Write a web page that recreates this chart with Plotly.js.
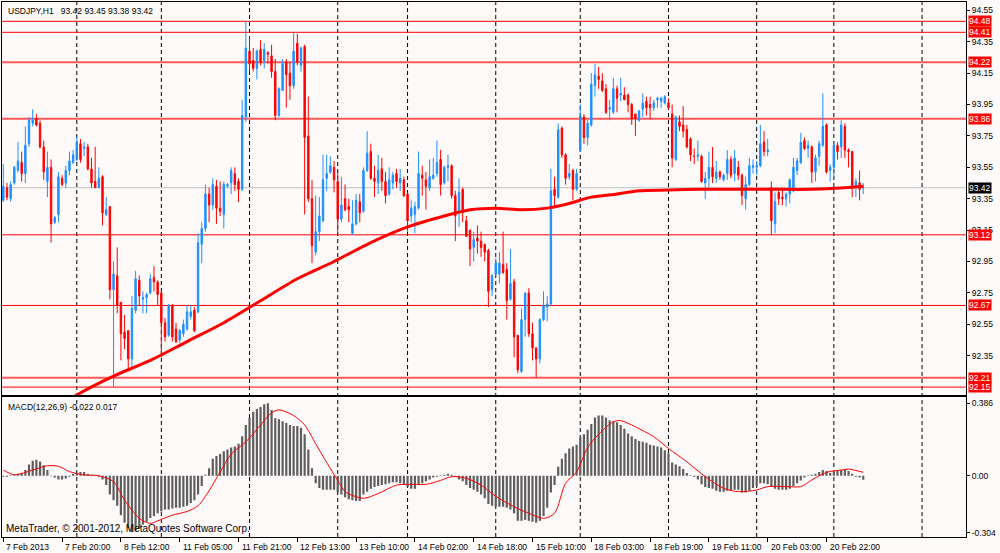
<!DOCTYPE html>
<html><head><meta charset="utf-8">
<script src="https://cdn.plot.ly/plotly-3.0.1.min.js"></script>
<style>html,body{margin:0;padding:0;background:#FFFAFA;}#chart{width:1000px;height:553px;}</style>
</head><body><div id="chart"></div>
<script>
// ---- OHLC (USDJPY H1), bar index 0 = 7 Feb 2013 04:00 ----
const open = [
93.34,93.42,93.35,93.45,93.53,93.58,93.51,93.70,93.83,93.86,
93.83,93.68,93.46,93.55,93.20,93.25,93.48,93.45,93.53,93.58,
93.60,93.70,93.67,93.68,93.54,93.46,93.42,93.49,93.25,93.30,
92.77,92.86,92.69,92.50,92.51,92.33,92.64,92.83,92.71,92.72,
92.75,92.85,92.82,92.75,92.56,92.48,92.67,92.52,92.45,92.49,
92.52,92.60,92.64,92.63,93.06,93.16,93.38,93.31,93.43,93.29,
93.25,93.43,93.45,93.51,93.46,93.41,93.87,94.29,94.23,94.18,
94.30,94.23,94.28,94.26,94.16,93.88,94.04,94.22,94.15,94.07,
94.34,94.20,94.32,93.75,93.35,93.01,93.14,93.21,93.48,93.52,
93.55,93.46,93.22,93.35,93.30,93.13,93.19,93.33,93.27,93.53,
93.65,93.48,93.45,93.54,93.46,93.38,93.45,93.51,93.45,93.47,
93.38,93.24,93.25,93.29,93.50,93.47,93.42,93.48,93.51,93.60,
93.45,93.55,93.56,93.37,93.26,93.41,93.21,93.15,93.04,93.10,
93.08,93.06,93.02,92.77,92.87,92.87,92.93,92.90,92.71,92.82,
92.48,92.25,92.58,92.75,92.49,92.40,92.33,92.58,92.66,92.68,
93.41,93.36,93.80,93.63,93.49,93.53,93.41,93.66,93.87,93.74,
93.82,94.07,94.13,94.10,94.05,93.92,93.90,94.05,94.01,94.01,
94.01,93.95,93.89,93.85,93.92,93.97,93.95,93.93,93.98,93.97,
93.96,93.96,93.89,93.60,93.84,93.82,93.79,93.73,93.62,93.62,
93.62,93.45,93.48,93.55,93.48,93.52,93.47,93.51,93.60,93.51,
93.55,93.50,93.35,93.44,93.55,93.55,93.56,93.71,93.65,93.42,
93.19,93.39,93.36,93.35,93.38,93.40,93.53,93.58,93.72,93.67,
93.68,93.52,93.62,93.69,93.82,93.53,93.55,93.69,93.68,93.81,
93.66,93.65,93.43,93.45,93.42];
const high = [
93.57,93.45,93.46,93.56,93.71,93.65,93.81,93.87,93.92,93.89,
93.85,93.72,93.65,93.60,93.24,93.52,93.50,93.56,93.65,93.66,
93.74,93.73,93.71,93.70,93.61,93.68,93.55,93.50,93.36,93.30,
92.95,93.04,92.69,92.61,92.51,92.73,92.89,92.86,92.76,92.75,
92.87,92.92,92.83,92.76,92.59,92.68,92.68,92.56,92.52,92.58,
92.67,92.67,92.66,93.13,93.20,93.44,93.42,93.48,93.47,93.46,
93.46,93.45,93.55,93.55,93.48,93.98,94.48,94.38,94.31,94.30,
94.36,94.34,94.29,94.33,94.24,94.06,94.24,94.24,94.22,94.41,
94.40,94.32,94.33,94.00,93.47,93.37,93.36,93.63,93.63,93.62,
93.59,93.52,93.49,93.44,93.35,93.34,93.38,93.38,93.55,93.78,
93.70,93.56,93.63,93.61,93.52,93.55,93.52,93.54,93.54,93.49,
93.39,93.34,93.33,93.65,93.56,93.52,93.60,93.61,93.72,93.66,
93.56,93.63,93.57,93.40,93.48,93.42,93.24,93.15,93.14,93.18,
93.14,93.06,93.03,92.87,92.97,93.01,93.14,92.94,93.03,92.84,
92.48,92.65,92.75,92.78,92.56,92.40,92.59,92.76,92.73,93.54,
93.49,93.83,93.81,93.64,93.57,93.54,93.54,93.95,93.89,93.85,
94.15,94.21,94.19,94.15,94.08,93.98,94.12,94.07,94.12,94.06,
94.02,93.96,93.89,93.91,94.02,94.00,94.00,93.98,94.00,94.00,
94.01,93.99,93.95,93.88,93.88,93.94,93.82,93.74,93.67,93.72,
93.63,93.52,93.65,93.68,93.59,93.53,93.51,93.66,93.62,93.66,
93.59,93.51,93.49,93.61,93.60,93.59,93.82,93.78,93.73,93.46,
93.39,93.40,93.42,93.39,93.48,93.61,93.61,93.77,93.74,93.72,
93.69,93.63,93.72,94.02,93.83,93.57,93.71,93.71,93.85,93.83,
93.67,93.65,93.48,93.53,93.45];
const low = [
93.33,93.34,93.33,93.44,93.52,93.46,93.45,93.68,93.81,93.81,
93.67,93.47,93.36,93.07,93.19,93.20,93.43,93.42,93.50,93.57,
93.59,93.58,93.62,93.53,93.42,93.42,93.42,93.18,93.24,92.71,
92.15,92.62,92.32,92.39,92.26,92.27,92.62,92.67,92.62,92.62,
92.74,92.76,92.67,92.34,92.44,92.47,92.44,92.43,92.43,92.47,
92.51,92.58,92.50,92.62,92.94,93.14,93.20,93.28,93.19,93.24,
93.16,93.42,93.38,93.40,93.33,93.40,93.84,94.16,94.16,94.11,
94.20,94.18,94.21,94.12,93.85,93.87,94.04,93.93,93.98,94.05,
94.20,94.16,93.25,93.33,92.94,92.99,93.08,93.20,93.40,93.51,
93.39,93.13,93.20,93.27,93.20,93.12,93.18,93.20,93.26,93.52,
93.47,93.36,93.38,93.40,93.32,93.37,93.41,93.42,93.40,93.36,
93.14,93.20,93.13,93.28,93.37,93.28,93.40,93.47,93.49,93.37,
93.44,93.46,93.35,93.08,93.17,93.20,93.11,92.92,92.95,93.00,
92.98,92.95,92.66,92.73,92.86,92.81,92.87,92.58,92.70,92.34,
92.24,92.24,92.47,92.47,92.32,92.21,92.30,92.57,92.57,92.67,
93.29,93.35,93.61,93.44,93.47,93.34,93.40,93.65,93.70,93.69,
93.81,94.00,94.05,94.03,93.89,93.85,93.89,93.90,93.97,93.98,
93.90,93.82,93.75,93.84,93.87,93.88,93.86,93.91,93.93,93.93,
93.95,93.92,93.55,93.59,93.78,93.74,93.67,93.59,93.57,93.59,
93.45,93.35,93.42,93.45,93.45,93.47,93.46,93.47,93.48,93.46,
93.47,93.31,93.28,93.43,93.51,93.50,93.55,93.62,93.62,93.12,
93.13,93.31,93.31,93.30,93.32,93.39,93.50,93.57,93.66,93.61,
93.45,93.46,93.56,93.68,93.51,93.46,93.48,93.60,93.61,93.61,
93.55,93.36,93.36,93.34,93.38];
const close = [
93.43,93.36,93.44,93.55,93.59,93.51,93.69,93.85,93.85,93.82,
93.68,93.52,93.55,93.19,93.23,93.49,93.44,93.53,93.59,93.63,
93.71,93.60,93.68,93.54,93.45,93.42,93.48,93.26,93.28,92.77,
92.87,92.67,92.49,92.46,92.33,92.65,92.84,92.73,92.72,92.74,
92.84,92.82,92.74,92.56,92.47,92.67,92.47,92.44,92.51,92.55,
92.63,92.63,92.51,93.07,93.16,93.38,93.31,93.44,93.29,93.27,
93.44,93.44,93.53,93.44,93.41,93.88,94.31,94.21,94.18,94.29,
94.22,94.30,94.27,94.16,93.88,94.05,94.21,94.14,94.07,94.29,
94.22,94.31,93.74,93.35,93.05,93.14,93.24,93.47,93.51,93.56,
93.47,93.22,93.31,93.28,93.28,93.19,93.34,93.26,93.53,93.64,
93.48,93.46,93.53,93.46,93.37,93.47,93.50,93.46,93.48,93.37,
93.21,93.29,93.30,93.51,93.48,93.43,93.49,93.50,93.58,93.44,
93.55,93.56,93.37,93.24,93.39,93.26,93.11,93.03,93.09,93.08,
93.04,93.01,92.76,92.86,92.94,92.94,92.88,92.70,92.81,92.47,
92.26,92.58,92.75,92.49,92.40,92.33,92.58,92.67,92.68,93.40,
93.37,93.79,93.63,93.48,93.51,93.41,93.51,93.88,93.74,93.83,
94.08,94.14,94.11,94.04,93.90,93.93,94.05,93.99,94.02,93.98,
93.95,93.86,93.86,93.91,93.96,93.93,93.93,93.96,93.99,93.99,
94.00,93.93,93.61,93.87,93.81,93.78,93.68,93.63,93.62,93.63,
93.46,93.48,93.55,93.49,93.52,93.49,93.50,93.60,93.50,93.61,
93.50,93.37,93.44,93.56,93.56,93.56,93.70,93.65,93.66,93.21,
93.33,93.35,93.35,93.38,93.47,93.55,93.59,93.71,93.67,93.69,
93.52,93.61,93.70,93.81,93.52,93.55,93.69,93.65,93.82,93.66,
93.65,93.43,93.46,93.41,93.42];

// ---- Moving average (red thick line), sampled at bar indices ----
const maIdx = [18,20,30,40,50,60,70,80,90,100,110,120,127,134,141,148,154,160,167,173,181,190,200,210,220,229,234];
const maVal = [92.07,92.10,92.22,92.32,92.44,92.56,92.70,92.84,92.95,93.07,93.17,93.24,93.28,93.29,93.28,93.29,93.32,93.36,93.38,93.40,93.405,93.41,93.41,93.41,93.41,93.42,93.43];

// ---- MACD(12,26,9) histogram per bar ----
const macdHist = [
-0.005,-0.005,0.002,0.005,0.01,0.015,0.03,0.06,0.08,0.085,
0.075,0.055,0.03,-0.003,-0.01,-0.02,-0.02,-0.015,-0.005,0.01,
0.015,0.02,0.02,0.01,0.005,0.002,-0.005,-0.02,-0.05,-0.1,
-0.13,-0.16,-0.21,-0.25,-0.28,-0.30,-0.295,-0.28,-0.26,-0.245,
-0.225,-0.215,-0.2,-0.19,-0.18,-0.18,-0.175,-0.17,-0.17,-0.165,
-0.16,-0.145,-0.13,-0.1,-0.055,0.005,0.04,0.09,0.105,0.115,
0.13,0.14,0.15,0.155,0.17,0.21,0.27,0.31,0.34,0.355,
0.365,0.38,0.386,0.35,0.305,0.3,0.29,0.28,0.27,0.265,
0.265,0.255,0.22,0.14,0.04,-0.04,-0.065,-0.075,-0.075,-0.075,
-0.075,-0.09,-0.1,-0.115,-0.125,-0.13,-0.135,-0.135,-0.1,-0.085,
-0.07,-0.06,-0.055,-0.05,-0.045,-0.04,-0.035,-0.035,-0.04,-0.05,
-0.06,-0.07,-0.07,-0.05,-0.04,-0.03,-0.02,-0.01,-0.005,0.002,
0.005,0.01,0.005,-0.005,-0.02,-0.03,-0.05,-0.065,-0.075,-0.085,
-0.1,-0.12,-0.15,-0.16,-0.165,-0.165,-0.165,-0.17,-0.18,-0.2,
-0.24,-0.24,-0.235,-0.24,-0.245,-0.25,-0.24,-0.215,-0.17,-0.09,
-0.05,0.048,0.09,0.12,0.145,0.155,0.165,0.205,0.22,0.245,
0.275,0.31,0.32,0.32,0.31,0.295,0.29,0.285,0.27,0.25,
0.225,0.21,0.195,0.185,0.18,0.175,0.165,0.16,0.155,0.15,
0.135,0.12,0.07,0.06,0.05,0.035,0.015,0.002,-0.005,-0.02,
-0.045,-0.06,-0.065,-0.07,-0.08,-0.085,-0.085,-0.08,-0.08,-0.075,
-0.075,-0.09,-0.09,-0.08,-0.065,-0.055,-0.04,-0.04,-0.045,-0.06,
-0.07,-0.075,-0.075,-0.075,-0.07,-0.055,-0.04,-0.025,-0.01,0.003,
0.005,0.01,0.02,0.03,0.025,0.015,0.02,0.025,0.03,0.03,
0.025,0.01,-0.005,-0.01,-0.022];

// ---- MACD signal line, sampled ----
const sigIdx = [0,3,8,12,15,18,22,26,30,33,37,40,42,46,50,53,56,59,62,66,70,73,75,79,82,85,88,91,93,98,102,107,110,115,119,122,126,130,134,139,143,147,150,153,156,159,162,166,168,172,177,181,186,191,196,200,205,208,213,217,220,224,228,230,234];
const sigVal = [0.03,0.005,0.03,0.053,0.05,0.022,0.004,0.0,-0.032,-0.13,-0.227,-0.254,-0.24,-0.21,-0.19,-0.16,-0.08,0.02,0.115,0.18,0.27,0.335,0.35,0.32,0.27,0.17,0.07,-0.025,-0.085,-0.12,-0.095,-0.05,-0.046,-0.046,-0.025,-0.005,-0.014,-0.05,-0.11,-0.165,-0.2,-0.227,-0.2,-0.04,0.02,0.15,0.22,0.287,0.293,0.26,0.207,0.145,0.074,-0.005,-0.067,-0.085,-0.076,-0.058,-0.058,-0.058,-0.023,0.018,0.03,0.035,0.018];

// ---- Axis labels / levels ----
const priceTicks = [94.55,94.35,94.15,93.95,93.75,93.55,93.35,93.15,92.95,92.75,92.55,92.35];
const macdTicks = [0.386, 0, -0.304];
const macdTickText = ['0.386','0.00','-0.304'];
const labelIdx = [0,16,32,48,64,80,96,112,128,144,160,176,192,208,224];
const labelText = ['7 Feb 2013','7 Feb 20:00','8 Feb 12:00','11 Feb 05:00','11 Feb 21:00','12 Feb 13:00','13 Feb 10:00','14 Feb 02:00','14 Feb 18:00','15 Feb 10:00','18 Feb 03:00','18 Feb 19:00','19 Feb 11:00','20 Feb 03:00','20 Feb 22:00'];
const daySepIdx = [20,43,67,91,110,134,157,181,205,226,250];
const levels = [94.48,94.41,94.22,93.86,93.12,92.67,92.21,92.15];
const currentPrice = 93.42;

const idx = open.map((_, i) => i);
const thick = new Set([94.22, 93.86, 92.21]);
const FONT = 'Liberation Sans, Arial, sans-serif';
const XR = [-0.354, 261.96];

const traces = [
  {type:'candlestick', x:idx, open:open, high:high, low:low, close:close,
   xaxis:'x', yaxis:'y', whiskerwidth:0, hoverinfo:'skip', showlegend:false,
   increasing:{line:{color:'#1E90FF', width:1}, fillcolor:'#1E90FF'},
   decreasing:{line:{color:'#FF0000', width:1}, fillcolor:'#FF0000'}},
  {type:'scatter', mode:'lines', x:maIdx, y:maVal, xaxis:'x', yaxis:'y',
   line:{color:'#FF0000', width:3, shape:'spline', smoothing:0.8}, hoverinfo:'skip', showlegend:false},
  {type:'bar', x:idx, y:macdHist, xaxis:'x2', yaxis:'y2', width:0.6,
   marker:{color:'#5E5E5E', line:{width:0}}, hoverinfo:'skip', showlegend:false},
  {type:'scatter', mode:'lines', x:sigIdx, y:sigVal, xaxis:'x2', yaxis:'y2',
   line:{color:'#FF0000', width:1, shape:'spline', smoothing:0.8}, hoverinfo:'skip', showlegend:false}
];

const shapes = [];
daySepIdx.forEach(i => shapes.push({type:'line', xref:'x', yref:'paper', x0:i, x1:i, y0:0, y1:1,
  line:{color:'#000', width:1, dash:'4px,3px'}, layer:'below'}));
levels.forEach(v => shapes.push({type:'line', xref:'paper', yref:'y', x0:0, x1:1, y0:v, y1:v,
  line:{color: thick.has(v) ? 'rgba(255,60,60,0.85)' : '#FF0000', width: thick.has(v) ? 2 : 1}, layer:'below'}));
shapes.push({type:'line', xref:'paper', yref:'y', x0:0, x1:1, y0:currentPrice, y1:currentPrice,
  line:{color:'#C0C0C0', width:1}, layer:'below'});

const annotations = [];
levels.forEach(v => annotations.push({xref:'paper', yref:'y', x:1, y:v, xanchor:'left', yanchor:'middle',
  xshift:2, text:v.toFixed(2), showarrow:false, bgcolor:'#FF0000', borderpad:0,
  font:{family:FONT, size:8.5, color:'#FFFFFF'}}));
annotations.push({xref:'paper', yref:'y', x:1, y:currentPrice, xanchor:'left', yanchor:'middle',
  xshift:2, text:currentPrice.toFixed(2), showarrow:false, bgcolor:'#000000', borderpad:0,
  font:{family:FONT, size:8.5, color:'#FFFFFF'}});
labelIdx.forEach((i, k) => annotations.push({xref:'x2', yref:'paper', x:i, y:0, xanchor:'left', yanchor:'top',
  yshift:-3, xshift:1, text:labelText[k], showarrow:false, font:{family:FONT, size:8.5, color:'#000'}}));
annotations.push({xref:'paper', yref:'paper', x:0, y:1, xanchor:'left', yanchor:'top', xshift:4, yshift:-2,
  text:'USDJPY,H1\u00A0\u00A0 93.42 93.45 93.38 93.42', showarrow:false, font:{family:FONT, size:8.5, color:'#000'}});
annotations.push({xref:'paper', yref:'paper', x:0, y:0.26075, xanchor:'left', yanchor:'top', xshift:4, yshift:-3,
  text:'MACD(12,26,9) -0.022 0.017', showarrow:false, font:{family:FONT, size:8.5, color:'#000'}});
annotations.push({xref:'paper', yref:'paper', x:0, y:0, xanchor:'left', yanchor:'bottom', xshift:2, yshift:1,
  text:'MetaTrader, \u00A9 2001-2012, MetaQuotes Software Corp.', showarrow:false, font:{family:FONT, size:10, color:'#000'}});

const axBase = {showgrid:false, zeroline:false, showline:true, mirror:true, linecolor:'#000', linewidth:1, fixedrange:true};
const layout = {
  width:1000, height:553, margin:{l:2, r:34, t:2, b:16, pad:0},
  paper_bgcolor:'#FFFAFA', plot_bgcolor:'#FFFAFA', showlegend:false, boxgap:0.45,
  font:{family:FONT, size:8.5, color:'#000'},
  xaxis:Object.assign({}, axBase, {domain:[0,1], range:XR, anchor:'y', showticklabels:false, ticks:'', rangeslider:{visible:false}}),
  yaxis:Object.assign({}, axBase, {domain:[0.2645,1], range:[92.0965,94.603], side:'right', anchor:'x',
    tickvals:priceTicks, ticktext:priceTicks.map(v => v.toFixed(2)), ticks:'outside', ticklen:3, tickcolor:'#000',
    tickfont:{family:FONT, size:8.5, color:'#000'}}),
  xaxis2:Object.assign({}, axBase, {domain:[0,1], range:XR, anchor:'y2', tickvals:labelIdx, ticks:'outside',
    ticklen:4, tickcolor:'#000', showticklabels:false}),
  yaxis2:Object.assign({}, axBase, {domain:[0,0.26075], range:[-0.3261,0.416], side:'right', anchor:'x2',
    tickvals:macdTicks, ticktext:macdTickText, ticks:'outside', ticklen:3, tickcolor:'#000',
    tickfont:{family:FONT, size:8.5, color:'#000'}}),
  shapes:shapes, annotations:annotations, hovermode:false
};
Plotly.newPlot('chart', traces, layout, {staticPlot:true, displayModeBar:false});
</script></body></html>
